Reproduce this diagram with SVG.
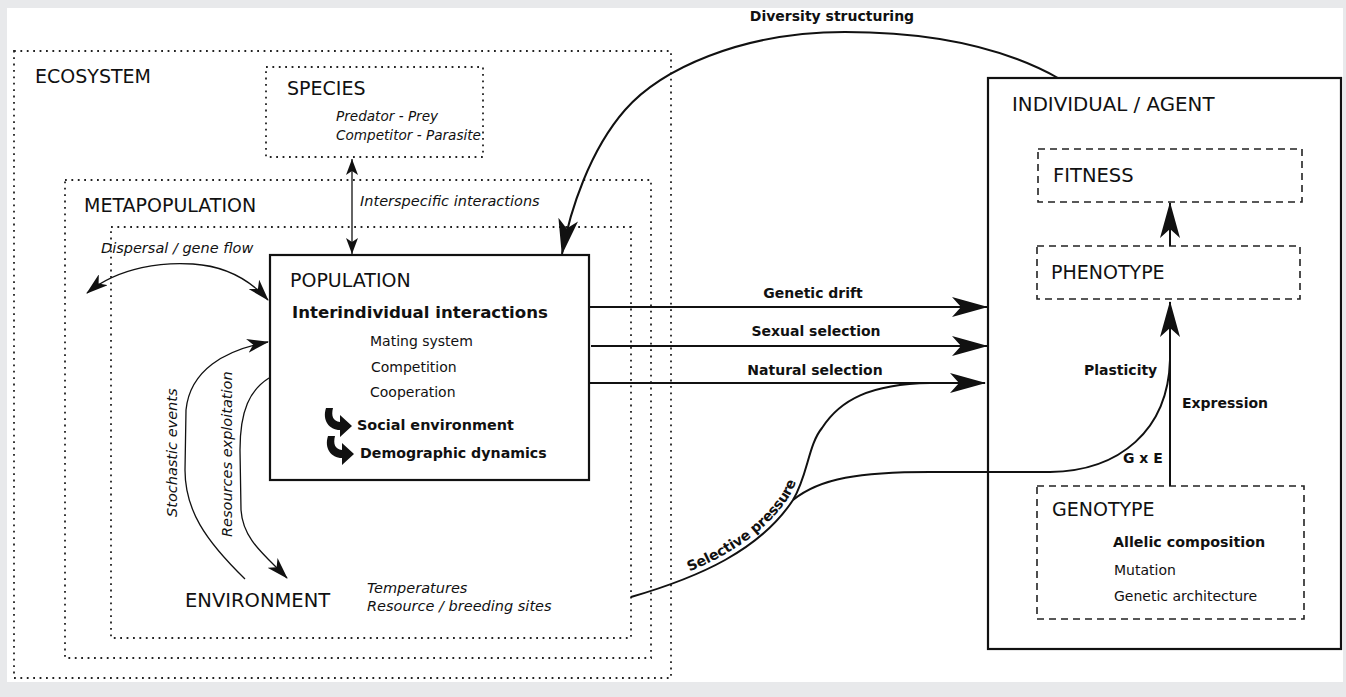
<svg xmlns="http://www.w3.org/2000/svg" xmlns:xlink="http://www.w3.org/1999/xlink" width="1346" height="697" viewBox="0 0 1346 697">
<style>
text{font-family:"DejaVu Sans","Liberation Sans",sans-serif;fill:#111}
.title{font-size:19px}
.it{font-style:italic;font-size:14.5px}
.b{font-weight:bold;font-size:14px}
.n{font-size:14px}
.dot{fill:none;stroke:#222;stroke-width:1.8;stroke-dasharray:1.8 4.6}
.dash{fill:none;stroke:#222;stroke-width:1.6;stroke-dasharray:7 5}
.solid{fill:#fff;stroke:#111;stroke-width:2.2}
.ln{fill:none;stroke:#111;stroke-width:2}
.thin{fill:none;stroke:#111;stroke-width:1.3}
.icon{fill:#111}
</style>
<defs>
<marker id="big" viewBox="0 0 36 20" refX="35" refY="10" markerWidth="36" markerHeight="20" markerUnits="userSpaceOnUse" orient="auto-start-reverse"><path d="M0,0 L36,10 L0,20 L9,10 Z" fill="#111"/></marker>
<marker id="med" viewBox="0 0 22 14" refX="21" refY="7" markerWidth="22" markerHeight="14" markerUnits="userSpaceOnUse" orient="auto-start-reverse"><path d="M0,0 L22,7 L0,14 L6,7 Z" fill="#111"/></marker>
<marker id="sml" viewBox="0 0 16 12" refX="16" refY="6" markerWidth="16" markerHeight="12" markerUnits="userSpaceOnUse" orient="auto-start-reverse"><path d="M0,0 L16,6 L0,12 L4,6 Z" fill="#111"/></marker>
</defs>
<rect x="0" y="0" width="1346" height="697" fill="#e8e9eb"/>
<rect x="7" y="8" width="1336" height="674" fill="#fff"/>

<g id="ecosystem">
<rect class="dot" x="14" y="51" width="657" height="627"/>
<text class="title" x="35" y="83">ECOSYSTEM</text>
</g>
<g id="species">
<rect class="dot" x="266" y="67" width="217" height="90"/>
<text class="title" x="287" y="95">SPECIES</text>
<text class="it" x="336" y="121" style="font-size:13.6px">Predator - Prey</text>
<text class="it" x="336" y="140" style="font-size:13.6px">Competitor - Parasite</text>
</g>
<g id="metapopulation">
<rect class="dot" x="65" y="180" width="586" height="478"/>
<text class="title" x="84" y="212">METAPOPULATION</text>
</g>
<g id="environment">
<rect class="dot" x="111" y="227" width="520" height="411"/>
<text class="title" x="185" y="607" style="font-size:19.5px">ENVIRONMENT</text>
<text class="it" x="367" y="593">Temperatures</text>
<text class="it" x="367" y="611">Resource / breeding sites</text>
</g>
<g id="population">
<rect class="solid" x="270" y="255" width="319" height="225"/>
<text class="title" x="290" y="287">POPULATION</text>
<text class="b" x="292" y="318" style="font-size:16.6px">Interindividual interactions</text>
<text class="n" x="370" y="346">Mating system</text>
<text class="n" x="371" y="372">Competition</text>
<text class="n" x="370" y="397">Cooperation</text>
<path class="icon" d="M326,408 L333,408 C331,416 333,421 340,422 L340,415 L352,426 L340,437 L340,430 C329,430 322,420 326,408 Z"/>
<text class="b" x="357" y="430" style="font-size:14.4px">Social environment</text>
<path class="icon" d="M328,436 L335,436 C333,444 335,449 342,450 L342,443 L354,454 L342,465 L342,458 C331,458 324,448 328,436 Z"/>
<text class="b" x="360" y="458" style="font-size:14.2px">Demographic dynamics</text>
</g>
<g id="individual">
<rect class="solid" x="988" y="78" width="353" height="571" stroke-width="2.5"/>
<text class="title" x="1012" y="111" style="font-size:19.8px">INDIVIDUAL / AGENT</text>
</g>
<g id="fitness">
<rect class="dash" x="1038" y="149" width="264" height="53"/>
<text class="title" x="1053" y="182" style="font-size:19.5px">FITNESS</text>
</g>
<g id="phenotype">
<rect class="dash" x="1037" y="246" width="263" height="53"/>
<text class="title" x="1051" y="279">PHENOTYPE</text>
</g>
<g id="genotype">
<rect class="dash" x="1037" y="486" width="267" height="133"/>
<text class="title" x="1052" y="516">GENOTYPE</text>
<text class="b" x="1113" y="547" style="font-size:14.3px">Allelic composition</text>
<text class="n" x="1114" y="575">Mutation</text>
<text class="n" x="1114" y="601">Genetic architecture</text>
</g>

<g id="connectors">
<line class="thin" x1="352" y1="159" x2="352" y2="254" marker-start="url(#sml)" marker-end="url(#sml)"/>
<text class="it" x="360" y="206">Interspecific interactions</text>

<path class="ln" d="M1058,78 C990,40 910,32 845,32 C740,32 660,70 625,110 C590,150 570,210 562,254" marker-end="url(#big)"/>
<text class="b" x="832" y="21" text-anchor="middle">Diversity structuring</text>

<path class="thin" d="M87,293 C120,266 165,262 193,264 C225,266 250,280 268,300" marker-start="url(#med)" marker-end="url(#med)"/>
<text class="it" x="101" y="253">Dispersal / gene flow</text>

<path class="thin" d="M245,579 C205,540 185,510 185,470 L186,410 C190,370 225,350 268,342" marker-end="url(#med)"/>
<text class="it" transform="translate(177,517) rotate(-90)">Stochastic events</text>
<path class="thin" d="M269,378 C250,390 240,410 240,450 L241,510 C243,540 265,555 287,578" marker-end="url(#med)"/>
<text class="it" transform="translate(232,537) rotate(-90)">Resources exploitation</text>

<line class="ln" x1="589" y1="307" x2="987" y2="307" marker-end="url(#big)"/>
<text class="b" x="813" y="298" text-anchor="middle">Genetic drift</text>
<line class="ln" x1="591" y1="346" x2="987" y2="346" marker-end="url(#big)"/>
<text class="b" x="816" y="336" text-anchor="middle">Sexual selection</text>
<line class="ln" x1="589" y1="383" x2="985" y2="383" marker-end="url(#big)"/>
<text class="b" x="815" y="375" text-anchor="middle">Natural selection</text>

<path id="selp" class="ln" d="M631,597 C700,577 760,550 793,500 C808,475 808,445 822,428 C840,400 870,384 930,383 L950,383"/>
<text class="b"><textPath xlink:href="#selp" startOffset="64"><tspan dy="-5">Selective pressure</tspan></textPath></text>

<path class="ln" d="M793,500 C820,478 860,472 930,472 L1050,472 C1120,471 1168,430 1170,360"/>
<line class="ln" x1="1170" y1="486" x2="1170" y2="302" marker-end="url(#big)"/>
<line class="ln" x1="1170" y1="246" x2="1170" y2="203" marker-end="url(#big)"/>
<text class="b" x="1084" y="375">Plasticity</text>
<text class="b" x="1182" y="408">Expression</text>
<text class="b" x="1123" y="463">G x E</text>
</g>
</svg>
